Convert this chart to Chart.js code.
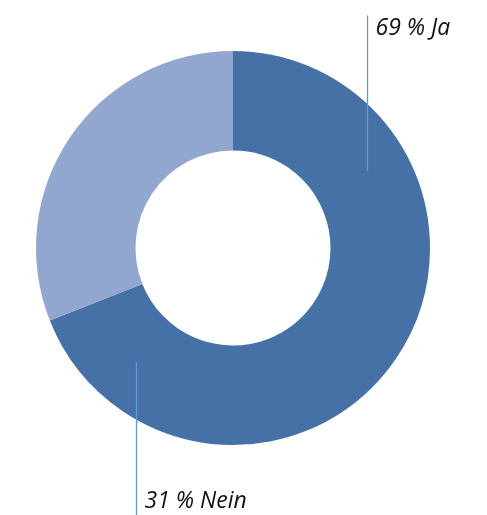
<!DOCTYPE html>
<html>
<head>
<meta charset="utf-8">
<script src="https://cdn.jsdelivr.net/npm/chart.js@4/dist/chart.umd.min.js"></script>
<style>
  html, body { margin: 0; padding: 0; background: #ffffff; }
  #wrap { width: 487px; height: 515px; position: relative; }
</style>
</head>
<body>
<div id="wrap"><canvas id="chart"></canvas></div>
<script>
  var categories = ['Ja', 'Nein'];
  var shares = [69, 31];
  var sliceColors = ['#4571a6', '#91a7cf'];

  // leader lines + labels, placed relative to the arc geometry
  var leaderLabels = {
    id: 'leaderLabels',
    afterDraw: function (chart) {
      var arc = chart.getDatasetMeta(0).data[0];
      if (!arc) { return; }
      var cx = arc.x, cy = arc.y, r = arc.outerRadius;
      var ctx = chart.ctx;
      ctx.save();
      ctx.strokeStyle = '#5b9bd5';
      ctx.lineWidth = 1.3;
      ctx.font = 'italic 23px "Open Sans", sans-serif';
      ctx.fillStyle = '#111111';
      ctx.textBaseline = 'middle';

      var jaX = Math.round(cx + 0.68 * r) + 0.5;
      ctx.beginPath();
      ctx.moveTo(jaX, cy - 1.18 * r);
      ctx.lineTo(jaX, cy - 0.39 * r);
      ctx.stroke();
      ctx.fillText(shares[0] + ' % ' + categories[0], jaX + 8, cy - 1.115 * r);

      var neinX = Math.round(cx - 0.49 * r) + 0.5;
      ctx.beginPath();
      ctx.moveTo(neinX, cy + 0.58 * r);
      ctx.lineTo(neinX, chart.height);
      ctx.stroke();
      ctx.fillText(shares[1] + ' % ' + categories[1], neinX + 8, cy + 1.285 * r);
      ctx.restore();
    }
  };

  new Chart(document.getElementById('chart'), {
    type: 'doughnut',
    data: {
      labels: categories,
      datasets: [{
        data: shares,
        backgroundColor: sliceColors,
        borderWidth: 0
      }]
    },
    options: {
      responsive: true,
      maintainAspectRatio: false,
      animation: false,
      cutout: '49.5%',
      layout: { padding: { left: 36, right: 57, top: 51, bottom: 70 } },
      plugins: {
        legend: { display: false },
        tooltip: { enabled: false }
      }
    },
    plugins: [leaderLabels]
  });
</script>
</body>
</html>
